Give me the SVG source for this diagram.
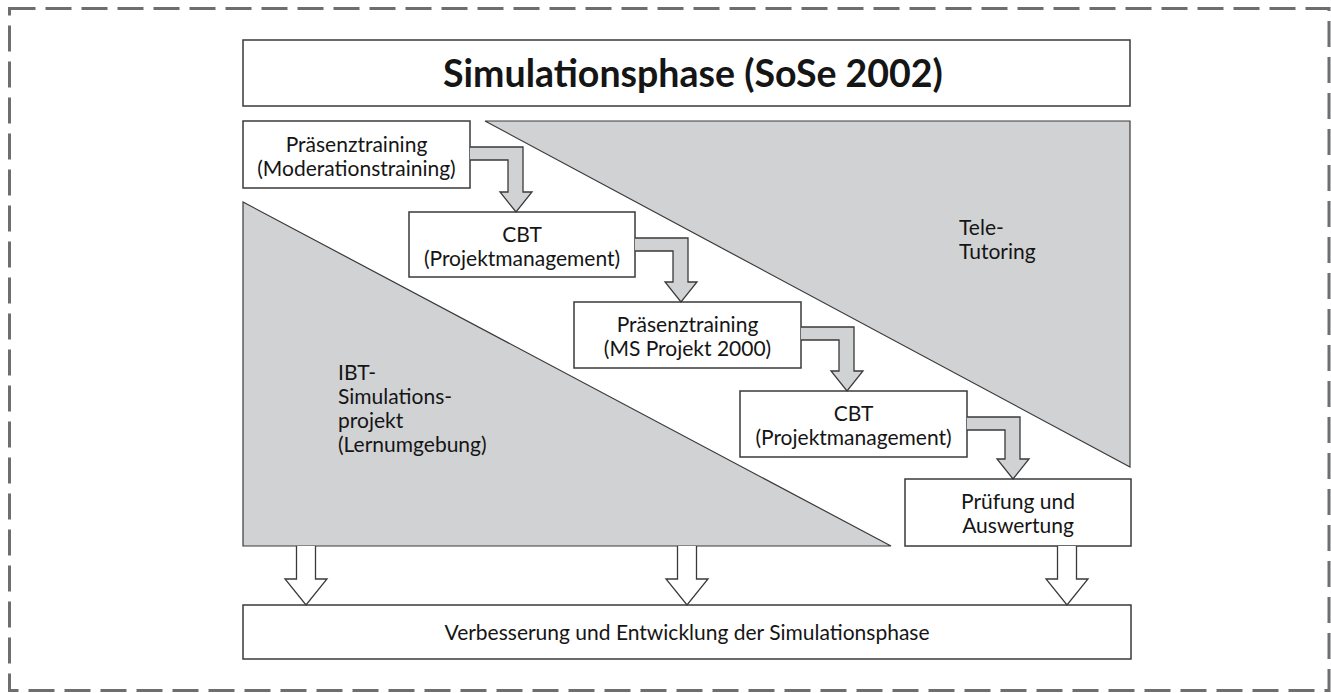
<svg xmlns="http://www.w3.org/2000/svg" width="1331" height="693" viewBox="0 0 1331 693">
<style>
.box{fill:#fff;stroke:#3a3a3a;stroke-width:1.5}
.tri{fill:#d1d2d4;stroke:#3a3a3a;stroke-width:1.2}
.ga{fill:#d1d2d4;stroke:#3a3a3a;stroke-width:1.3;stroke-linejoin:miter}
.wa{fill:#fff;stroke:#3a3a3a;stroke-width:1.3}
.t{font-family:Lato,"Open Sans",sans-serif;font-size:21px;fill:#151515}
.c{text-anchor:middle}
.title{font-family:Lato,"Open Sans",sans-serif;font-size:37.5px;font-weight:bold;fill:#151515;text-anchor:middle}
</style>
<rect x="9.5" y="8.5" width="1319.5" height="682" fill="none" stroke="#6d6e70" stroke-width="3" stroke-dasharray="26 10"/>
<g id="tele-tutoring">
<polygon class="tri" points="485,121 1130,121 1130,467"/>
<text class="t" x="959" y="235">Tele-</text>
<text class="t" x="959" y="259">Tutoring</text>
</g>
<g id="ibt">
<polygon class="tri" points="243,202 243,546 891,546"/>
<text class="t" x="338" y="380">IBT-</text>
<text class="t" x="338" y="404">Simulations-</text>
<text class="t" x="338" y="428">projekt</text>
<text class="t" x="338" y="452">(Lernumgebung)</text>
</g>
<g id="title">
<rect class="box" x="243" y="40" width="887" height="66"/>
<text class="title" x="693" y="87">Simulationsphase (SoSe 2002)</text>
</g>
<g id="b1">
<rect class="box" x="243" y="121" width="227" height="67"/>
<text class="t c" x="356.5" y="152">Präsenztraining</text>
<text class="t c" x="356.5" y="176">(Moderationstraining)</text>
</g>
<g id="b2">
<rect class="box" x="409" y="212" width="226" height="65"/>
<text class="t c" x="522" y="242">CBT</text>
<text class="t c" x="522" y="266">(Projektmanagement)</text>
</g>
<g id="b3">
<rect class="box" x="574" y="302" width="227" height="66"/>
<text class="t c" x="687.5" y="332">Präsenztraining</text>
<text class="t c" x="687.5" y="356">(MS Projekt 2000)</text>
</g>
<g id="b4">
<rect class="box" x="740" y="391" width="227" height="66"/>
<text class="t c" x="853.5" y="421">CBT</text>
<text class="t c" x="853.5" y="445">(Projektmanagement)</text>
</g>
<g id="b5">
<rect class="box" x="905" y="479" width="226" height="67"/>
<text class="t c" x="1018" y="509">Prüfung und</text>
<text class="t c" x="1018" y="533">Auswertung</text>
</g>
<g id="bottom">
<rect class="box" x="243" y="605" width="888" height="54"/>
<text class="t c" x="687" y="640">Verbesserung und Entwicklung der Simulationsphase</text>
</g>
<g id="connectors">
<path class="ga" d="M470,147 H523 V192 H532 L516,212 L500,192 H508 V160 H470"/>
<path class="ga" d="M635,238 H688 V282 H697 L681,302 L665,282 H673 V251 H635"/>
<path class="ga" d="M801,327 H854 V371 H863 L847,391 L831,371 H839 V340 H801"/>
<path class="ga" d="M967,417 H1020 V459 H1029 L1013,479 L997,459 H1005 V430 H967"/>
<path class="wa" d="M296.5,546 V579 H285 L306,605 L327,579 H315.5 V546"/>
<path class="wa" d="M677.5,546 V579 H666 L687,605 L708,579 H696.5 V546"/>
<path class="wa" d="M1057.5,546 V579 H1046 L1067,605 L1088,579 H1076.5 V546"/>
</g>
</svg>
